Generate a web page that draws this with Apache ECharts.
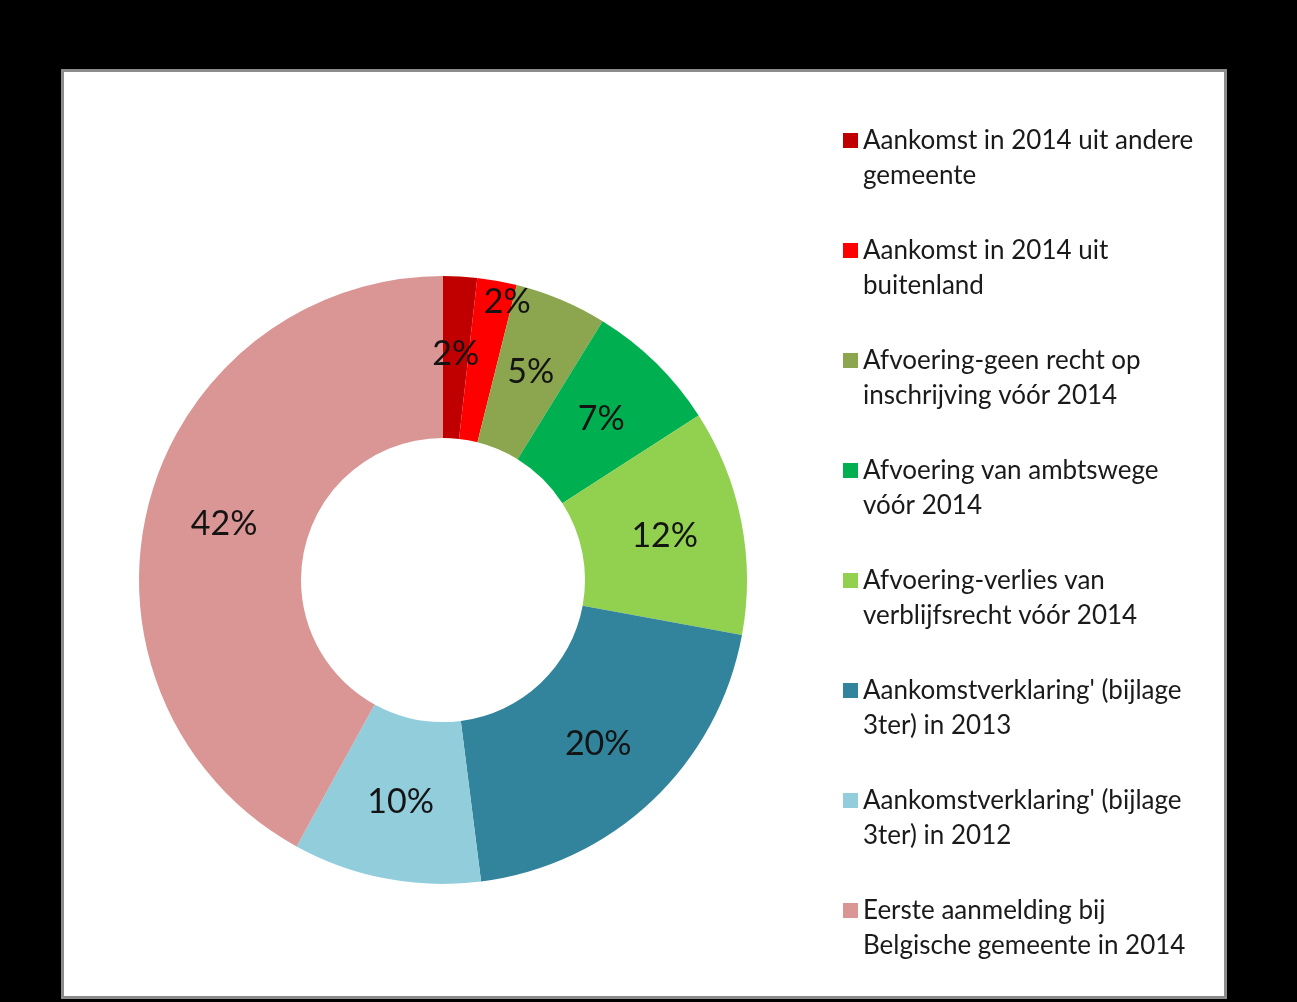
<!DOCTYPE html>
<html>
<head>
<meta charset="utf-8">
<script src="https://cdn.jsdelivr.net/npm/echarts@6/dist/echarts.min.js"></script>
<style>
html,body{margin:0;padding:0;background:#000;}
#chart{width:1297px;height:1002px;}
</style>
</head>
<body>
<div id="chart"></div>
<script>
const categories = [
  "Aankomst in 2014 uit andere\ngemeente",
  "Aankomst in 2014 uit\nbuitenland",
  "Afvoering-geen recht op\ninschrijving vóór 2014",
  "Afvoering van ambtswege\nvóór 2014",
  "Afvoering-verlies van\nverblijfsrecht vóór 2014",
  "Aankomstverklaring' (bijlage\n3ter) in 2013",
  "Aankomstverklaring' (bijlage\n3ter) in 2012",
  "Eerste aanmelding bij\nBelgische gemeente in 2014"
];
const values = [1.8, 2.1, 4.9, 7.1, 12.0, 20.1, 10.0, 42.0];
const colors = ["#C00000", "#FF0000", "#8BA64F", "#00B050", "#92D050", "#31849B", "#92CDDC", "#D99694"];

const chart = echarts.init(document.getElementById('chart'), null, {renderer: 'canvas'});
const FONT = 'Lato';

const data = categories.map((name, i) => {
  const item = {name: name, value: values[i], itemStyle: {color: colors[i]}};
  if (i === 1) item.label = {offset: [24, -56]};
  return item;
});

chart.setOption({
  backgroundColor: '#000',
  animation: false,
  graphic: [{
    type: 'rect',
    shape: {x: 62.5, y: 70.5, width: 1163, height: 927},
    style: {fill: '#fff', stroke: '#8c8c8c', lineWidth: 3},
    z: -10
  }],
  legend: {
    orient: 'vertical',
    left: 838,
    top: 83,
    itemWidth: 15,
    itemHeight: 15,
    itemGap: 5,
    icon: 'rect',
    data: categories,
    formatter: name => ' \n' + name,
    textStyle: {
      fontFamily: FONT,
      fontSize: 26,
      color: '#1a1a1a',
      lineHeight: 35
    }
  },
  series: [{
    type: 'pie',
    center: [443, 580],
    radius: [142, 304],
    startAngle: 90,
    clockwise: true,
    avoidLabelOverlap: false,
    label: {
      show: true,
      position: 'inside',
      formatter: p => Math.round(p.value) + '%',
      fontFamily: FONT,
      fontSize: 34,
      color: '#141414'
    },
    labelLine: {show: false},
    emphasis: {disabled: true},
    itemStyle: {borderWidth: 0},
    data: data
  }]
});
</script>
</body>
</html>
